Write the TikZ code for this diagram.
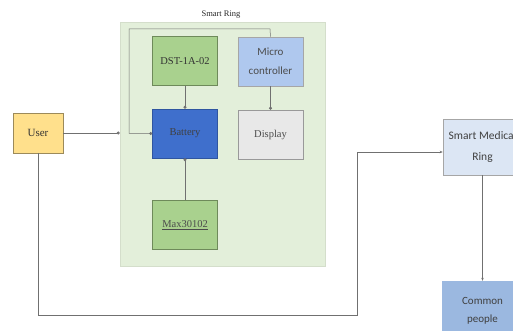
\documentclass[tikz,border=0pt]{standalone}
\usepackage{fontspec}
\setmainfont{Liberation Serif}
\newfontfamily\calibri{Carlito}
\usetikzlibrary{arrows.meta}
\definecolor{ringbg}{HTML}{E3EFDA}
\definecolor{ringedge}{HTML}{D4DECB}
\definecolor{leaf}{HTML}{A9D18E}
\definecolor{leafedge}{HTML}{6E8A5A}
\definecolor{sky}{HTML}{AFC8EE}
\definecolor{battfill}{HTML}{3F6FCC}
\definecolor{battedge}{HTML}{2F55A0}
\definecolor{dispfill}{HTML}{E8E8E8}
\definecolor{userfill}{HTML}{FFE08C}
\definecolor{useredge}{HTML}{9C8A5A}
\definecolor{palesky}{HTML}{DCE6F4}
\definecolor{deepsky}{HTML}{9BB8E0}
\definecolor{wire}{HTML}{707070}
\tikzset{
  x=1pt, y=-1pt,
  blk/.style={draw=#1, line width=0.6pt, minimum width=65pt, minimum height=49pt,
    inner sep=1pt, align=center, font=\fontsize{10.5}{12}\selectfont},
  wiredot/.style={draw=wire, line width=0.5pt, -{Circle[length=3pt]}},
  wirearrow/.style={draw=wire, line width=0.5pt, -{Stealth[length=3pt,width=2.5pt]}},
}
\begin{document}
\begin{tikzpicture}
\useasboundingbox (0,0) rectangle (513,331);
\clip (0,0) rectangle (513,331);

% smart ring enclosure
\node[draw=ringedge, fill=ringbg, line width=0.6pt, minimum width=205pt,
  minimum height=244pt, inner sep=0pt] (ring) at (222.5,144) {};
\node[font=\fontsize{8.5}{9}\selectfont, text=black!85] (ringtitle) at (221,15) {Smart Ring};

% blocks inside the ring
\node[blk=leafedge, fill=leaf, text=black!80] (dst) at (185,61) {DST-1A-02};
\node[blk=gray!70, fill=sky, text=black!70,
  font=\calibri\fontsize{11}{19}\selectfont] (mcu) at (270.5,61.5) {Micro\\controller};
\node[blk=battedge, fill=battfill, text=black!75] (batt) at (185,133.5) {Battery};
\node[blk=gray!80, fill=dispfill, text=black!70] (disp) at (270.5,134.5) {Display};
\node[blk=leafedge, fill=leaf, text=black!70] (max) at (185,225) {\underline{Max30102}};

% outside blocks
\node[draw=useredge, fill=userfill, line width=0.6pt, minimum width=50pt,
  minimum height=40pt, font=\fontsize{11}{12}\selectfont, text=black!80] (user) at (38,133) {User};
\node[draw=gray!70, fill=palesky, line width=0.6pt, minimum width=79pt,
  minimum height=56pt, align=center, font=\calibri\fontsize{11.5}{21}\selectfont,
  text=black!75] (smr) at (482.5,147) {Smart Medical\\Ring};
\node[fill=deepsky, minimum width=81pt, minimum height=60pt, align=center,
  font=\calibri\fontsize{11}{18}\selectfont, text=black!75] (people) at (482.5,311) {Common\\people};

% internal connections
\draw[wiredot] (dst.south) -- (batt.north);
\draw[wiredot] (mcu.south) -- (disp.north);
\draw[wiredot] (max.north) -- (batt.south);
\coordinate (loopa) at (270,29);
\coordinate (loopb) at (129,29);
\coordinate (loopc) at (129,133.5);
\draw[wiredot] (mcu.north) -- (loopa) -- (loopb) -- (loopc) -- (batt.west);

% user connections
\draw[wiredot] (user.east) -- (ring.west |- user.east);
\coordinate (lowa) at (38,315);
\coordinate (lowb) at (357,315);
\coordinate (lowc) at (357,152);
\draw[wirearrow] (user.south) -- (lowa) -- (lowb) -- (lowc) -- (smr.west |- lowc);
\draw[wirearrow] (smr.south) -- (people.north);
\end{tikzpicture}
\end{document}
